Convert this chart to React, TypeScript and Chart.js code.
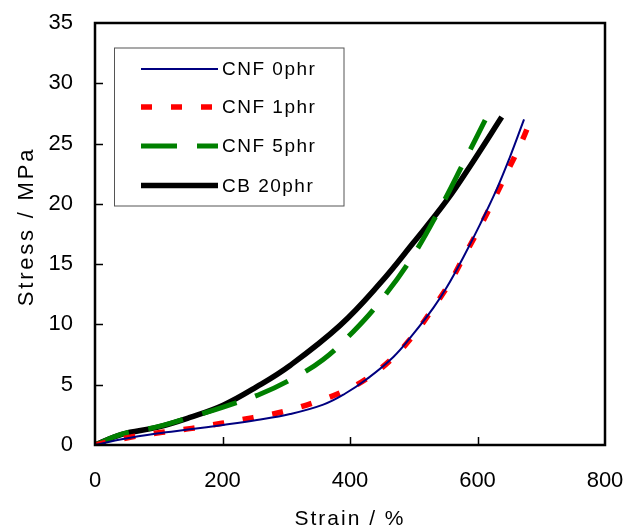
import React, { useEffect, useRef } from "react";
import { Chart, registerables } from "chart.js";

Chart.register(...registerables);

// ---- data (strain %, stress MPa) ----
const seriesLabels = ["CNF 0phr", "CNF 1phr", "CNF 5phr", "CB 20phr"];

const cnf0Strain = [0, 44, 97, 149, 201, 254, 306, 358, 392, 426, 468, 499, 531, 552, 578, 604, 630, 651, 673];
const cnf0Stress = [0, 0.5, 0.95, 1.3, 1.66, 2.07, 2.57, 3.35, 4.25, 5.45, 7.3, 9.2, 11.4, 13.1, 15.6, 18.3, 21.2, 23.9, 27.0];

const cnf1Strain = [0, 55, 105, 152, 199, 248, 295, 342, 390, 431, 469, 502, 530, 557, 580, 604, 626, 647, 668, 687];
const cnf1Stress = [0, 0.64, 1.05, 1.38, 1.8, 2.27, 2.76, 3.5, 4.45, 5.67, 7.32, 9.26, 11.33, 13.5, 15.75, 18.1, 20.4, 22.7, 25.0, 27.45];

const cnf5Strain = [0, 42, 97, 149, 201, 256, 306, 358, 405, 444, 494, 538, 580, 612];
const cnf5Stress = [0, 0.9, 1.5, 2.3, 3.15, 4.15, 5.4, 7.1, 9.4, 11.7, 15.3, 19.3, 23.6, 26.95];

const cb20Strain = [0, 42, 97, 149, 201, 254, 306, 384, 447, 499, 552, 593, 638];
const cb20Stress = [0, 0.88, 1.46, 2.29, 3.3, 4.84, 6.6, 9.9, 13.4, 16.75, 20.3, 23.5, 27.2];

const xTickValues = [0, 200, 400, 600, 800];
const yTickValues = [0, 5, 10, 15, 20, 25, 30, 35];

const xTitle = "Strain / %";
const yTitle = "Stress / MPa";

const toPoints = (xs: number[], ys: number[]) => xs.map((x, i) => ({ x, y: ys[i] }));

const FONT = "'Liberation Sans', Arial, sans-serif";

const decorPlugin = {
  id: "decor",
  afterDatasetsDraw(chart: any) {
    const { ctx, chartArea } = chart;
    const xs = chart.scales.x;
    const ys = chart.scales.y;
    const { left, right, top, bottom } = chartArea;
    ctx.save();
    // inward tick marks
    ctx.strokeStyle = "#000";
    ctx.lineWidth = 1.5;
    ctx.beginPath();
    yTickValues.slice(1, -1).forEach((v) => {
      const py = Math.round(ys.getPixelForValue(v)) + 0.5;
      ctx.moveTo(left, py);
      ctx.lineTo(left + 8, py);
    });
    xTickValues.slice(1, -1).forEach((v) => {
      const px = Math.round(xs.getPixelForValue(v)) + 0.5;
      ctx.moveTo(px, bottom);
      ctx.lineTo(px, bottom - 8);
    });
    ctx.stroke();
    // frame
    ctx.lineWidth = 2.5;
    ctx.strokeStyle = "#000";
    ctx.strokeRect(left, top, right - left, bottom - top);

    // legend box
    const bx = 114, by = 47.5, bw = 229.5, bh = 158;
    ctx.fillStyle = "#fff";
    ctx.fillRect(bx, by, bw, bh);
    ctx.lineWidth = 1;
    ctx.strokeStyle = "#555";
    ctx.strokeRect(bx + 0.5, by + 0.5, bw, bh);
    const rows = [69, 107, 146, 185.5];
    chart.data.datasets.forEach((ds: any, i: number) => {
      const yy = rows[i];
      ctx.save();
      ctx.strokeStyle = ds.borderColor;
      ctx.lineWidth = ds.borderWidth;
      ctx.setLineDash(ds.borderDash || []);
      ctx.lineCap = "butt";
      ctx.beginPath();
      ctx.moveTo(141, yy);
      ctx.lineTo(218, yy);
      ctx.stroke();
      ctx.restore();
      ctx.fillStyle = "#000";
      ctx.font = `19px ${FONT}`;
      (ctx as any).letterSpacing = "1.5px";
      ctx.textAlign = "left";
      ctx.textBaseline = "middle";
      ctx.fillText(ds.label, 222, yy + 1);
    });

    // axis titles
    ctx.fillStyle = "#000";
    ctx.font = `21px ${FONT}`;
    (ctx as any).letterSpacing = "2px";
    ctx.textAlign = "center";
    ctx.textBaseline = "alphabetic";
    ctx.fillText(xTitle, (left + right) / 2, 525);
    ctx.save();
    ctx.translate(33, 226.5);
    ctx.rotate(-Math.PI / 2);
    ctx.font = `22px ${FONT}`;
    (ctx as any).letterSpacing = "2.8px";
    ctx.fillText(yTitle, 0, 0);
    ctx.restore();
    ctx.restore();
  },
};

export default function App() {
  const ref = useRef<HTMLCanvasElement | null>(null);
  useEffect(() => {
    if (!ref.current) return;
    const tickFont = { family: FONT, size: 22 };
    const common = { pointRadius: 0, tension: 0.4, borderCapStyle: "butt", borderJoinStyle: "round" };
    const chart = new Chart(ref.current, {
      type: "line",
      data: {
        datasets: [
          {
            ...common,
            label: seriesLabels[0],
            data: toPoints(cnf0Strain, cnf0Stress),
            borderColor: "#000080",
            borderWidth: 2,
          },
          {
            ...common,
            label: seriesLabels[1],
            data: toPoints(cnf1Strain, cnf1Stress),
            borderColor: "#ff0000",
            borderWidth: 5.5,
            borderDash: [11, 19],
          },
          {
            ...common,
            label: seriesLabels[2],
            data: toPoints(cnf5Strain, cnf5Stress),
            borderColor: "#008000",
            borderWidth: 5,
            borderDash: [36, 20],
          },
          {
            ...common,
            label: seriesLabels[3],
            data: toPoints(cb20Strain, cb20Stress),
            borderColor: "#000000",
            borderWidth: 5.5,
          },
        ],
      } as any,
      options: {
        animation: false,
        responsive: false,
        devicePixelRatio: 1,
        layout: { padding: { left: 0, top: 23, right: 33, bottom: 0 } },
        plugins: { legend: { display: false }, tooltip: { enabled: false } },
        scales: {
          x: {
            type: "linear",
            min: 0,
            max: 800,
            afterFit: (s: any) => {
              s.height = 85;
            },
            afterBuildTicks: (s: any) => {
              s.ticks = xTickValues.map((v) => ({ value: v }));
            },
            grid: { display: false, drawTicks: true, tickLength: 23 },
            border: { display: false },
            ticks: { color: "#000", font: tickFont, padding: 0, maxRotation: 0 },
          },
          y: {
            type: "linear",
            min: 0,
            max: 35,
            afterFit: (s: any) => {
              s.width = 95;
            },
            afterBuildTicks: (s: any) => {
              s.ticks = yTickValues.map((v) => ({ value: v }));
            },
            grid: { display: false, drawTicks: true, tickLength: 22 },
            border: { display: false },
            ticks: { color: "#000", font: tickFont, padding: 0 },
          },
        },
      } as any,
      plugins: [decorPlugin],
    });
    return () => chart.destroy();
  }, []);
  return (
    <div style={{ position: "fixed", left: 0, top: 0, width: 638, height: 530, background: "#fff" }}>
      <canvas ref={ref} width={638} height={530} style={{ width: 638, height: 530 }} />
    </div>
  );
}
